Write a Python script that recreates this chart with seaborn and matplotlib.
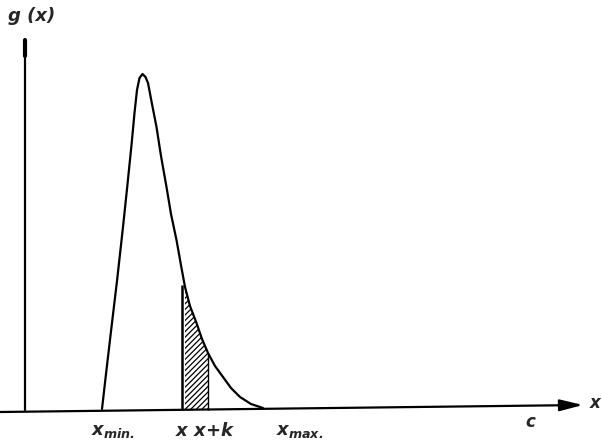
import matplotlib
matplotlib.use("Agg")
import matplotlib.pyplot as plt
import seaborn as sns
import pandas as pd

# curve (x along the axis, g(x) height)
curve_x = [77, 81, 86.5, 92, 98, 102, 106.5, 109.5, 112, 114.5, 117.5, 120.5, 123, 127, 131.5,
           136, 141.5, 146, 151.5, 156.5, 160, 165, 171.5, 177, 183, 190, 198, 206, 215, 226, 238]
curve_g = [1, 36, 83, 129, 183, 221, 265, 297, 320, 332, 336, 333, 327, 306, 283,
           254, 223, 196, 170, 142, 123, 104, 87, 71, 57, 44, 33, 22, 13, 6, 2]

# shaded strip between x and x+k
strip_lo = 157
strip_hi = 183

tick_names = ["$x_{min.}$", "$x$", "$x{+}k$", "$x_{max.}$"]
tick_pos = [88, 157, 189, 275]

df = pd.DataFrame({"x": curve_x, "g": curve_g})

sns.set_style("white")
plt.rcParams["font.family"] = ["DejaVu Sans"]
plt.rcParams["mathtext.fontset"] = "custom"
plt.rcParams["mathtext.it"] = "DejaVu Sans:italic:bold"
plt.rcParams["mathtext.rm"] = "DejaVu Sans:italic:bold"
plt.rcParams["hatch.linewidth"] = 0.9

fig = plt.figure(figsize=(6.02, 4.42), dpi=100)
ax = fig.add_axes([0, 0, 1, 1])
ax.set_xlim(-25, 577)
ax.set_ylim(-32, 410)
ax.axis("off")

sns.lineplot(data=df, x="x", y="g", ax=ax, color="black", linewidth=1.6, sort=False)

# hatched area under the curve
sub = df[(df.x >= strip_lo) & (df.x <= strip_hi)]
ax.fill_between(sub.x, 0, sub.g, facecolor="white", edgecolor="black",
                hatch="//////", linewidth=0)
ax.vlines(strip_lo, 0, sub.g.iloc[0] + 2, color="black", linewidth=1.8)
ax.vlines(strip_hi, 0, sub.g.iloc[-1], color="black", linewidth=1.0)

# axes
ax.annotate("", xy=(558, 5), xytext=(-25, -2),
            arrowprops=dict(arrowstyle="-|>,head_length=1.4,head_width=0.35",
                            color="black", lw=1.6, shrinkA=0, shrinkB=0))
ax.plot([0, 0], [0, 370], color="black", linewidth=1.6)
ax.plot([0, 0], [354, 370], color="black", linewidth=3)

ax.text(-17, 394, "g (x)", fontsize=13, fontweight="bold", fontstyle="italic",
        ha="left", va="center")
ax.text(505, -12, "c", fontsize=12, fontweight="bold", fontstyle="italic",
        ha="center", va="center")
ax.text(565, 7, "x", fontsize=12, fontweight="bold", fontstyle="italic",
        ha="left", va="center")

for name, pos in zip(tick_names, tick_pos):
    ax.text(pos, -21, name, fontsize=13, ha="center", va="center")

fig.savefig("out.png", dpi=100)
